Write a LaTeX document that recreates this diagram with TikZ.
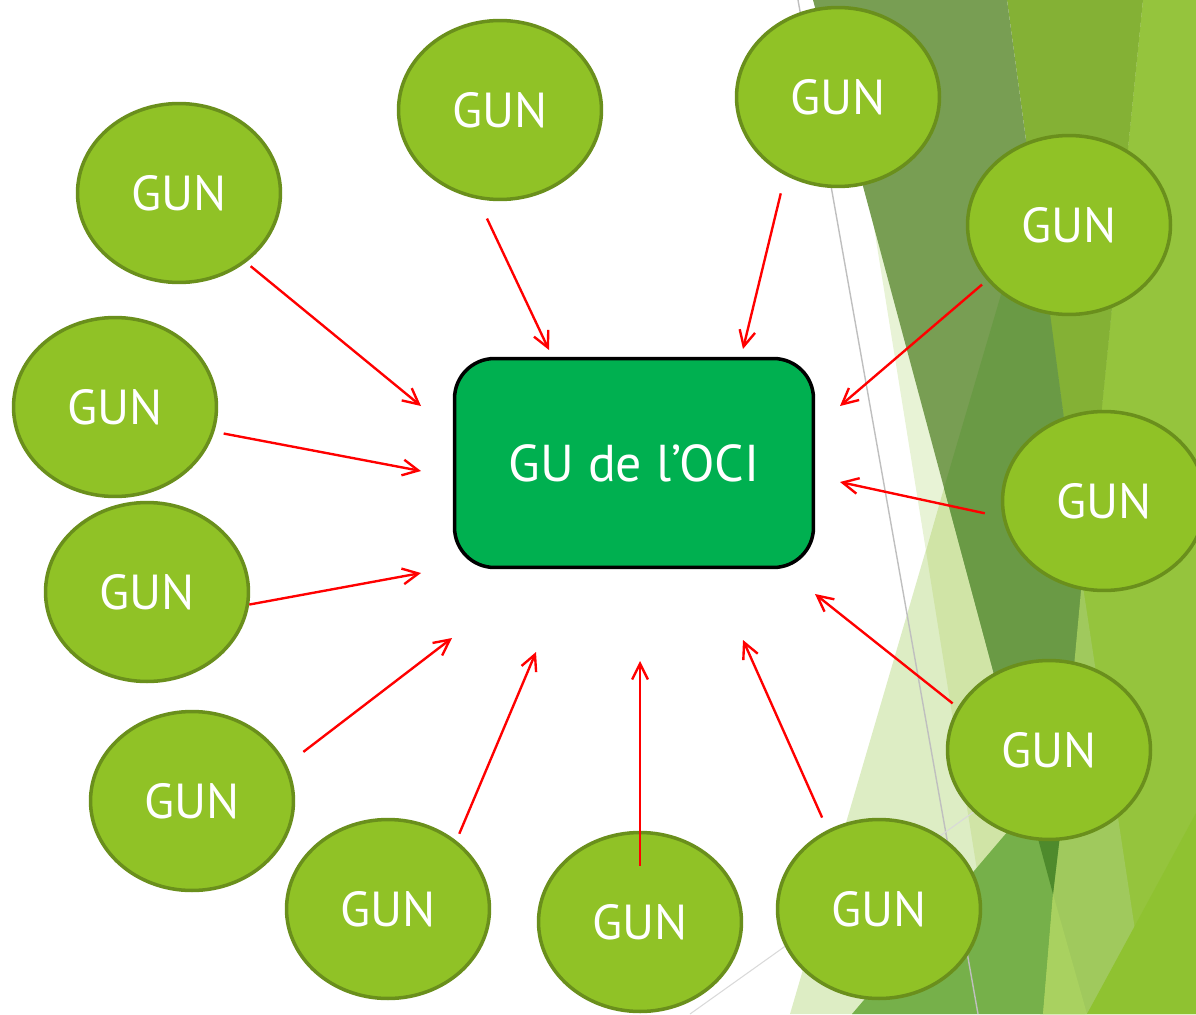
\documentclass[tikz,border=0pt]{standalone}
\usepackage{fontspec}
\setmainfont{PT Sans}
\usetikzlibrary{arrows.meta,shapes.geometric}

\definecolor{gunfill}{HTML}{90C226}
\definecolor{gunline}{HTML}{6A8F1C}
\definecolor{ocifill}{HTML}{00B050}
\definecolor{bgpale}{HTML}{DDEDC4}
\definecolor{bgmist}{HTML}{E8F3D6}
\definecolor{bgsage}{HTML}{D0E4A6}
\definecolor{bglime}{HTML}{95C43D}
\definecolor{bgleaf}{HTML}{84B135}
\definecolor{bgolive}{HTML}{789E53}
\definecolor{bgmoss}{HTML}{6A9A45}
\definecolor{bgfern}{HTML}{76B04A}
\definecolor{bgdeep}{HTML}{4E8A2C}
\definecolor{bgspring}{HTML}{A9D160}
\definecolor{bgpea}{HTML}{A0C95D}
\definecolor{bgherb}{HTML}{8FC231}

\begin{document}
\begin{tikzpicture}[x=0.02cm,y=-0.02cm,
	gun/.style={ellipse,draw=gunline,line width=2pt,fill=gunfill,
		minimum width=4.06cm,minimum height=3.58cm,inner sep=0pt,
		text=white,font=\fontsize{28}{30}\selectfont},
	oci/.style={rectangle,rounded corners=0.8cm,draw=black,line width=2pt,
		fill=ocifill,minimum width=7.18cm,minimum height=4.18cm,
		text=white,font=\fontsize{29.5}{32}\selectfont},
	flow/.style={-{Straight Barb[length=9pt,width=9pt]},color=red,line width=1.35pt}]

\useasboundingbox (0,0) rectangle (1196,1014);

% background facets
\fill[color=bgpale] (1087,0)--(1196,0)--(1196,1014)--(790,1014)--cycle;
\fill[color=bgmist] (872,215)--(944,488)--(926,551)--cycle;
\fill[color=bgsage] (944,488)--(926,551)--(1000,1014)--(1085,1014)--cycle;
\fill[color=bglime] (1143,0)--(1196,0)--(1196,1014)--(1040,1014)--cycle;
\fill[color=bgleaf] (1007,0)--(1143,0)--(1085,576)--cycle;
\fill[color=bgolive] (813,0)--(1007,0)--(1085,576)--(1053,894)--cycle;
\fill[color=bgmoss] (1033,186)--(1085,576)--(1053,894)--(944,488)--cycle;
\fill[color=bgpea] (1082,580)--(1135,930)--(1087,1014)--(1043,1014)--(1053,894)--cycle;
\fill[color=bgherb] (1196,813)--(1196,1014)--(1087,1014)--cycle;
\fill[color=bgfern] (852,1014)--(1090,735)--(1060,835)--(1053,894)--(1043,1014)--cycle;
\fill[color=bgdeep] (1037,835)--(1060,835)--(1053,894)--cycle;
\fill[color=bgspring] (1053,894)--(1043,1014)--(1087,1014)--cycle;
\draw[color=gray!50,line width=0.8pt] (798,0)--(978,1014);
\draw[color=gray!30,line width=0.6pt] (690,1014)--(975,811);

% GUN
\foreach \n/\x/\y in {1/179/193,2/500/110,3/838/97,4/1069/225,5/115/407,6/147/592,
	7/1104/501,8/192/801,9/1049/750,10/388/909,11/640/922,12/879/909}{
	\node[gun] (g\n) at (\x,\y) {GUN};
}

\node[oci] (oci) at (634,463) {GU de l’OCI};

% arrows to the GU
\foreach \n/\a/\s/\tx/\ty in {1/-46.6/0.12cm/421/406,2/-104.7/0.43cm/549/350,
	3/-124/0.37cm/743/349,4/-146.6/0.13cm/840/406,5/-14.5/0.19cm/421/471,
	7/-171.1/0.36cm/840/482,6/-7.7/0cm/421/573,9/155.8/0.13cm/815/594,
	8/21.1/0.42cm/452/638,10/45.4/0.15cm/536/652,11/90/-0.7cm/640/661,
	12/123.2/0.27cm/743/640}{
	\coordinate (t\n) at (\tx,\ty);
	\draw[flow,shorten <=\s] (g\n.\a)--(t\n);
}

\end{tikzpicture}
\end{document}
